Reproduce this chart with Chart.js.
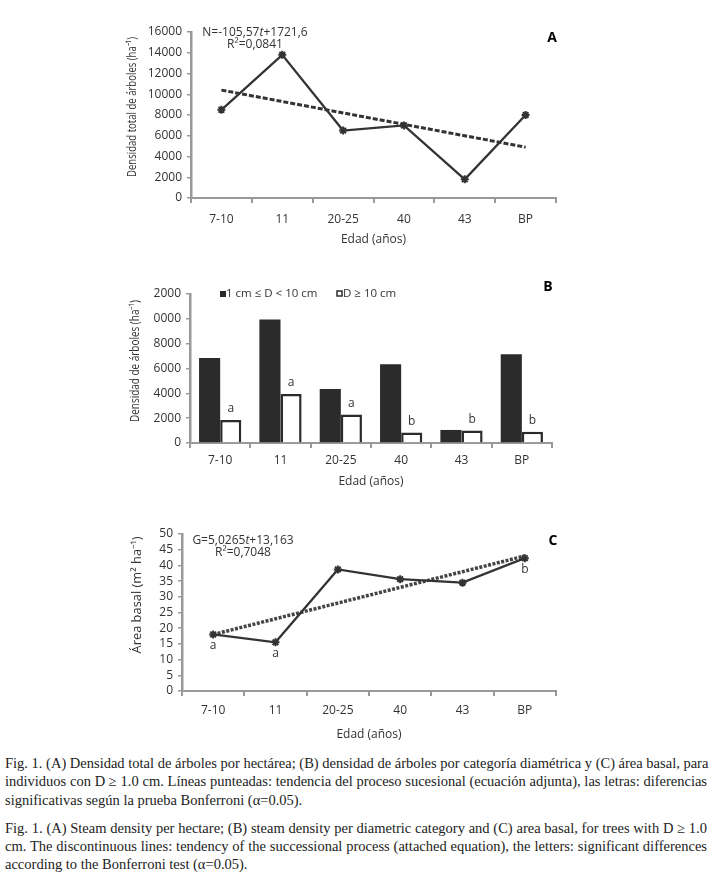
<!DOCTYPE html>
<html>
<head>
<meta charset="utf-8">
<script src="https://cdn.jsdelivr.net/npm/chart.js@4.4.0/dist/chart.umd.min.js"></script>
<style>
  body { margin: 0; background: #fff; width: 712px; height: 895px; position: relative; overflow: hidden; }
  canvas { position: absolute; left: 0; }
  #cap { position: absolute; left: 5px; top: 754px; width: 702px;
         font-family: 'Liberation Serif', 'Times New Roman', Times, serif; font-size: 14.5px; color: #222; }
  #cap div { white-space: nowrap; line-height: 18.3px; text-align: justify; text-align-last: justify; }
  #cap div.fin { text-align-last: left; }
  #cap .sep { height: 10px; }
</style>
</head>
<body>
<canvas id="chartA" width="712" height="262" style="top:0px"></canvas>
<canvas id="chartB" width="712" height="240" style="top:262px"></canvas>
<canvas id="chartC" width="712" height="245" style="top:505px"></canvas>
<div id="cap">
  <div>Fig. 1. (A) Densidad total de árboles por hectárea; (B) densidad de árboles por categoría diamétrica y (C) área basal, para</div>
  <div>individuos con D ≥ 1.0 cm. Líneas punteadas: tendencia del proceso sucesional (ecuación adjunta), las letras: diferencias</div>
  <div class="fin">significativas según la prueba Bonferroni (α=0.05).</div>
  <div class="sep"></div>
  <div>Fig. 1. (A) Steam density per hectare; (B) steam density per diametric category and (C) area basal, for trees with D ≥ 1.0</div>
  <div>cm. The discontinuous lines: tendency of the successional process (attached equation), the letters: significant differences</div>
  <div class="fin">according to the Bonferroni test (α=0.05).</div>
</div>
<script>
// categorías (edad)
const edades = ['7-10', '11', '20-25', '40', '43', 'BP'];

// A: densidad total
const densTotal = [8500, 13800, 6500, 7000, 1800, 8000];
const tendA = [10400, 9300, 8200, 7100, 6000, 4900];

// B: densidad por categoría diamétrica
const densMenor = [6850, 9950, 4350, 6350, 1050, 7150];
const densMayor = [1850, 3950, 2300, 850, 1000, 900];
const letrasB = ['a', 'a', 'a', 'b', 'b', 'b'];
const ticksB = ['0', '2000', '4000', '6000', '8000', '0000', '2000'];

// C: área basal
const areaBasal = [18.0, 15.5, 38.7, 35.6, 34.5, 42.3];
const tendC = [18, 23, 28, 33, 38, 43];
const letrasC = ['a', 'a', '', '', '', 'b'];

const SANS = "'Open Sans', sans-serif";
const TXT = '#333';
const EJE = '#999';
const OSCURO = '#2b2b2b';

function ejeX(alto, pad) {
  return {
    offset: true,
    grid: { display: true, drawOnChartArea: false, offset: true, tickLength: 5, color: EJE, lineWidth: 2 },
    border: { color: EJE, width: 2 },
    ticks: { color: TXT, font: { family: SANS, size: 12 }, padding: pad, maxRotation: 0 },
    title: { display: true, text: 'Edad (años)', color: TXT, font: { family: SANS, size: 12 }, padding: 0 },
    afterFit: s => { s.height = alto; }
  };
}

function ejeY(ancho, max, paso, etiquetas) {
  return {
    min: 0,
    max: max,
    ticks: {
      stepSize: paso, autoSkip: false, color: TXT, font: { family: SANS, size: 12 }, padding: 5,
      callback: (v, i) => etiquetas ? etiquetas[i] : String(v)
    },
    grid: { drawOnChartArea: false, tickLength: 4, color: EJE, lineWidth: 1.5 },
    border: { color: EJE, width: 2.5 },
    afterFit: s => { s.width = ancho; }
  };
}

// título vertical comprimido (fuente estrecha)
function tituloY(ctx, t, x, y, largo) {
  ctx.save();
  ctx.font = '12.5px ' + SANS;
  ctx.fillStyle = TXT;
  const w = ctx.measureText(t).width;
  ctx.translate(x, y);
  ctx.rotate(-Math.PI / 2);
  ctx.scale(largo / w, 1);
  ctx.textAlign = 'center';
  ctx.textBaseline = 'middle';
  ctx.fillText(t, 0, 0);
  ctx.restore();
}

// texto con partes en cursiva, centrado en x
function texto(ctx, partes, x, y, size) {
  let total = 0;
  partes.forEach(p => {
    ctx.font = (p[1] ? 'italic ' : '') + size + 'px ' + SANS;
    total += ctx.measureText(p[0]).width;
  });
  let cx = x - total / 2;
  ctx.textAlign = 'left';
  ctx.textBaseline = 'middle';
  partes.forEach(p => {
    ctx.font = (p[1] ? 'italic ' : '') + size + 'px ' + SANS;
    ctx.fillText(p[0], cx, y);
    cx += ctx.measureText(p[0]).width;
  });
}

function letra(ctx, t, x, y) {
  ctx.save();
  ctx.fillStyle = '#000';
  ctx.font = 'bold 14px ' + SANS;
  ctx.textAlign = 'center';
  ctx.textBaseline = 'middle';
  ctx.fillText(t, x, y);
  ctx.restore();
}

const base = {
  responsive: false,
  animation: false,
  plugins: { legend: { display: false }, tooltip: { enabled: false } }
};

// GRAFICO A
new Chart(document.getElementById('chartA'), {
  type: 'line',
  data: {
    labels: edades,
    datasets: [{
      data: densTotal,
      borderColor: '#333',
      borderWidth: 2.3,
      pointStyle: 'star',
      pointRadius: 4,
      pointBorderWidth: 2,
      pointBorderColor: '#333',
      tension: 0
    }, {
      data: tendA,
      borderColor: '#333',
      borderWidth: 3,
      borderDash: [5, 2],
      pointRadius: 0,
      tension: 0
    }]
  },
  options: Object.assign({}, base, {
    layout: { padding: { left: 125, right: 156, top: 32, bottom: 15 } },
    scales: {
      x: ejeX(49, 9),
      y: ejeY(66, 16000, 2000)
    }
  }),
  plugins: [{
    id: 'notasA',
    afterDraw(chart) {
      const ctx = chart.ctx;
      ctx.save();
      ctx.fillStyle = TXT;
      tituloY(ctx, 'Densidad total de árboles (ha⁻¹)', 132, 107, 140);
      texto(ctx, [['N=-105,57'], ['t', true], ['+1721,6']], 255, 33, 12);
      texto(ctx, [['R²=0,0841']], 255, 45, 12);
      letra(ctx, 'A', 552, 38);
      ctx.restore();
    }
  }]
});

// GRAFICO B
new Chart(document.getElementById('chartB'), {
  type: 'bar',
  data: {
    labels: edades,
    datasets: [{
      label: '1 cm ≤ D < 10 cm',
      data: densMenor,
      backgroundColor: OSCURO,
      borderWidth: 0,
      categoryPercentage: 0.7,
      barPercentage: 1.0
    }, {
      label: 'D ≥ 10 cm',
      data: densMayor,
      backgroundColor: '#fff',
      borderColor: OSCURO,
      borderWidth: 2.5,
      categoryPercentage: 0.7,
      barPercentage: 1.0
    }]
  },
  options: Object.assign({}, base, {
    layout: { padding: { left: 128, right: 160, top: 32, bottom: 13 } },
    scales: {
      x: ejeX(46, 5),
      y: ejeY(62, 12000, 2000, ticksB)
    }
  }),
  plugins: [{
    id: 'notasB',
    afterDraw(chart) {
      const ctx = chart.ctx;
      ctx.save();
      tituloY(ctx, 'Densidad de árboles (ha⁻¹)', 135, 99, 122);
      ctx.fillStyle = TXT;
      ctx.font = '12px ' + SANS;
      ctx.textAlign = 'center';
      ctx.textBaseline = 'bottom';
      chart.getDatasetMeta(1).data.forEach((bar, i) => {
        ctx.fillText(letrasB[i], bar.x, bar.y - 5);
      });
      // leyenda
      const ds = chart.data.datasets;
      ctx.font = '11.5px ' + SANS;
      ctx.textAlign = 'left';
      ctx.textBaseline = 'middle';
      ctx.fillStyle = OSCURO;
      ctx.fillRect(220, 29, 6, 6);
      ctx.fillStyle = TXT;
      ctx.fillText(ds[0].label, 226, 32);
      ctx.strokeStyle = OSCURO;
      ctx.lineWidth = 1.5;
      ctx.strokeRect(337, 29, 5, 5);
      ctx.fillText(ds[1].label, 343, 32);
      letra(ctx, 'B', 548, 25);
      ctx.restore();
    }
  }]
});

// GRAFICO C
new Chart(document.getElementById('chartC'), {
  type: 'line',
  data: {
    labels: edades,
    datasets: [{
      data: areaBasal,
      borderColor: '#333',
      borderWidth: 2.3,
      pointStyle: 'star',
      pointRadius: 4,
      pointBorderWidth: 2,
      pointBorderColor: '#333',
      tension: 0
    }, {
      data: tendC,
      borderColor: '#444',
      borderWidth: 3.5,
      borderDash: [3, 1.5],
      pointRadius: 0,
      tension: 0
    }]
  },
  options: Object.assign({}, base, {
    layout: { padding: { left: 130, right: 156, top: 29, bottom: 8 } },
    scales: {
      x: ejeX(51, 7),
      y: ejeY(52, 50, 5)
    }
  }),
  plugins: [{
    id: 'notasC',
    afterDraw(chart) {
      const ctx = chart.ctx;
      ctx.save();
      tituloY(ctx, 'Área basal (m² ha⁻¹)', 137, 90, 117);
      ctx.fillStyle = TXT;
      ctx.font = '12px ' + SANS;
      ctx.textAlign = 'center';
      ctx.textBaseline = 'middle';
      chart.getDatasetMeta(0).data.forEach((pt, i) => {
        if (letrasC[i]) ctx.fillText(letrasC[i], pt.x, pt.y + 11);
      });
      texto(ctx, [['G=5,0265'], ['t', true], ['+13,163']], 243, 36, 12);
      texto(ctx, [['R²=0,7048']], 243, 48, 12);
      letra(ctx, 'C', 553, 36);
      ctx.restore();
    }
  }]
});
</script>
</body>
</html>
